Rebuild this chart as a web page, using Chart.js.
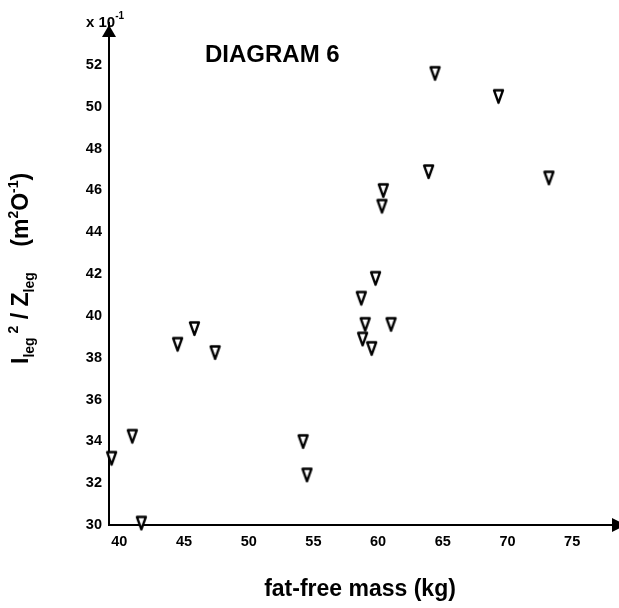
<!DOCTYPE html>
<html>
<head>
<meta charset="utf-8">
<script src="https://cdn.jsdelivr.net/npm/chart.js@4.4.1/dist/chart.umd.min.js"></script>
<style>
  html, body { margin: 0; padding: 0; background: #fff; overflow: hidden; }
  canvas { display: block; }
</style>
</head>
<body>
<canvas id="chart" width="619" height="608"></canvas>
<script>
/* fat-free mass vs I_leg^2 / Z_leg, open down-triangles, arrowed axes */
var MASS  = [64.4, 69.3, 63.9, 73.2, 60.4, 60.3, 59.8, 58.7, 59.0, 61.0, 58.8, 59.5, 44.5, 45.8, 47.4, 41.0, 39.4, 54.2, 54.5, 41.7];
var RATIO = [51.6, 50.5, 46.9, 46.6, 46.0, 45.25, 41.8, 40.85, 39.6, 39.6, 38.9, 38.45, 38.65, 39.4, 38.25, 34.25, 33.2, 34.0, 32.4, 30.1];
var X_TICKS = [40, 45, 50, 55, 60, 65, 70, 75];
var Y_TICKS = [30, 32, 34, 36, 38, 40, 42, 44, 46, 48, 50, 52];
var TITLE = 'DIAGRAM 6';
var X_TITLE = 'fat-free mass (kg)';
var Y_TITLE = [
  { t: 'I', k: 'n' }, { t: 'leg', k: 'sub' }, { t: ' 2', k: 'sup' }, { t: ' / Z', k: 'n' }, { t: 'leg', k: 'sub' },
  { t: '    (m', k: 'n' }, { t: '2', k: 'sup' }, { t: 'O', k: 'n' }, { t: '-1', k: 'sup' }, { t: ')', k: 'n' }
];

var FONT = 'Arial, "Liberation Sans", sans-serif';
var INK = '#000';

function makeMarker() {
  var c = document.createElement('canvas');
  c.width = 13; c.height = 17;
  var g = c.getContext('2d');
  g.beginPath(); g.moveTo(2, 2.5); g.lineTo(11, 2.5); g.lineTo(6.5, 15); g.closePath();
  g.fillStyle = '#fff'; g.fill();
  g.lineJoin = 'round';
  g.lineWidth = 2.3; g.strokeStyle = INK; g.stroke();
  return c;
}

var decor = {
  id: 'decor',
  afterDraw: function (chart) {
    var ctx = chart.ctx, a = chart.chartArea;
    ctx.save();
    ctx.fillStyle = INK;
    /* arrow heads */
    ctx.beginPath(); ctx.moveTo(a.left, a.top + 2); ctx.lineTo(a.left - 7, a.top + 14); ctx.lineTo(a.left + 7, a.top + 14); ctx.closePath(); ctx.fill();
    ctx.beginPath(); ctx.moveTo(a.right + 15, a.bottom); ctx.lineTo(a.right + 1, a.bottom - 7); ctx.lineTo(a.right + 1, a.bottom + 7); ctx.closePath(); ctx.fill();
    /* x 10^-1 */
    ctx.textAlign = 'left'; ctx.textBaseline = 'alphabetic';
    ctx.font = 'bold 15px ' + FONT; ctx.fillText('x 10', 86, 27);
    var w = ctx.measureText('x 10').width;
    ctx.font = 'bold 10px ' + FONT; ctx.fillText('-1', 86 + w, 19);
    /* title */
    ctx.font = 'bold 24px ' + FONT; ctx.fillText(TITLE, 205, 62);
    /* rotated y title with sub/superscripts */
    ctx.translate(28, 364); ctx.rotate(-Math.PI / 2);
    var x = 0;
    Y_TITLE.forEach(function (p) {
      var size = p.k === 'n' ? 23 : 14;
      var off = p.k === 'sub' ? 6 : (p.k === 'sup' ? -10 : 0);
      ctx.font = 'bold ' + size + 'px ' + FONT;
      ctx.fillText(p.t, x, off);
      x += ctx.measureText(p.t).width;
    });
    ctx.restore();
  }
};

new Chart(document.getElementById('chart'), {
  type: 'scatter',
  data: {
    datasets: [{
      data: MASS.map(function (m, i) { return { x: m, y: RATIO[i] }; }),
      pointStyle: makeMarker(),
      pointRadius: 7,
      clip: false
    }]
  },
  options: {
    responsive: false,
    animation: false,
    events: [],
    layout: { padding: { top: 23, right: 7, left: 0, bottom: 0 } },
    plugins: { legend: { display: false }, tooltip: { enabled: false } },
    scales: {
      x: {
        type: 'linear', min: 39.2, max: 78,
        border: { display: true, color: INK, width: 2 },
        grid: { display: false, drawTicks: false },
        ticks: { color: INK, font: { family: FONT, size: 14.5, weight: 'bold' }, padding: 8, maxRotation: 0, autoSkip: false },
        afterBuildTicks: function (s) { s.ticks = X_TICKS.map(function (v) { return { value: v }; }); },
        afterFit: function (s) { s.height = 83; },
        title: { display: true, text: X_TITLE, color: INK, font: { family: FONT, size: 23, weight: 'bold' }, padding: { top: 0, bottom: 5 } }
      },
      y: {
        type: 'linear', min: 30, max: 54,
        border: { display: true, color: INK, width: 2 },
        grid: { display: false, drawTicks: false },
        ticks: { color: INK, font: { family: FONT, size: 14.5, weight: 'bold' }, padding: 7, autoSkip: false },
        afterBuildTicks: function (s) { s.ticks = Y_TICKS.map(function (v) { return { value: v }; }); },
        afterFit: function (s) { s.width = 109; }
      }
    }
  },
  plugins: [decor]
});
</script>
</body>
</html>
